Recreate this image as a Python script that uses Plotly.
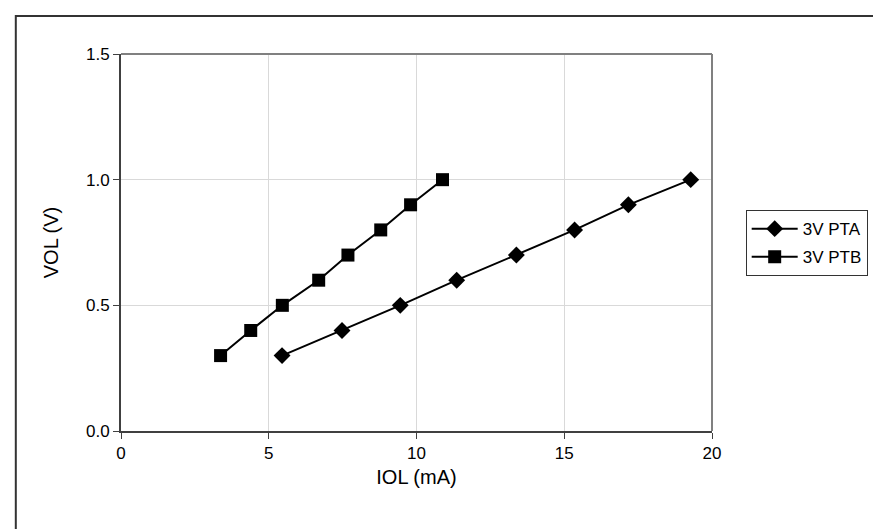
import plotly.graph_objects as go

# IOL (mA) vs VOL (V)
vol = [0.3, 0.4, 0.5, 0.6, 0.7, 0.8, 0.9, 1.0]
iol_pta = [5.45, 7.48, 9.45, 11.36, 13.38, 15.35, 17.17, 19.28]
iol_ptb = [3.37, 4.39, 5.46, 6.69, 7.68, 8.79, 9.80, 10.88]

FONT = "Liberation Sans Narrow, Liberation Sans, Arial, sans-serif"

fig = go.Figure()

fig.add_trace(go.Scatter(
    x=iol_pta, y=vol, name='3V PTA', mode='lines+markers', legendgroup='a',
    line=dict(color='black', width=2),
    marker=dict(symbol='diamond', size=13, color='black')
))
fig.add_trace(go.Scatter(
    x=iol_ptb, y=vol, name='3V PTB', mode='lines+markers', legendgroup='b',
    line=dict(color='black', width=2),
    marker=dict(symbol='square', size=13, color='black')
))

fig.update_layout(
    width=881, height=529,
    paper_bgcolor='white', plot_bgcolor='white',
    margin=dict(l=113, r=177, t=46, b=106),
    font=dict(family=FONT, size=17, color='black'),
    showlegend=True,
    legend=dict(
        x=1.057, y=0.586, xanchor='left', yanchor='top',
        bordercolor='#333333', borderwidth=1,
        font=dict(family=FONT, size=17),
        itemwidth=46, tracegroupgap=3,
    ),
    xaxis=dict(
        title=dict(text='IOL (mA)', standoff=8),
        range=[0, 20], tickvals=[0, 5, 10, 15, 20],
        showgrid=True, gridcolor='#d9d9d9', gridwidth=1,
        zeroline=False, showline=True, linecolor='#404040', linewidth=2,
        ticks='outside', ticklen=6, tickcolor='#404040',
    ),
    yaxis=dict(
        title=dict(text='VOL (V)', standoff=22),
        range=[0, 1.5], tickvals=[0, 0.5, 1.0, 1.5], tickformat='.1f',
        showgrid=True, gridcolor='#d9d9d9', gridwidth=1,
        zeroline=False, showline=True, linecolor='#404040', linewidth=2,
        ticks='outside', ticklen=6, tickcolor='#404040',
    ),
    shapes=[
        # grey top/right plot border
        dict(type='line', xref='paper', yref='paper', x0=0, x1=1, y0=1, y1=1,
             line=dict(color='#808080', width=2)),
        dict(type='line', xref='paper', yref='paper', x0=1, x1=1, y0=0, y1=1,
             line=dict(color='#808080', width=2)),
        # outer chart frame (right and bottom run off the canvas)
        dict(type='rect', xref='paper', yref='paper', x0=-0.178, x1=1.6, y0=-0.5, y1=1.101,
             line=dict(color='#333333', width=2), layer='below'),
    ],
)

fig.write_html("out.html")
